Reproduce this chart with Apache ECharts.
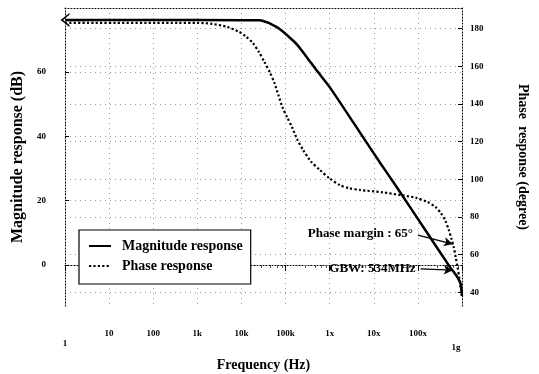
<!DOCTYPE html>
<html>
<head>
<meta charset="utf-8">
<script src="https://cdn.jsdelivr.net/npm/echarts@6/dist/echarts.min.js"></script>
<style>
html, body { margin: 0; padding: 0; background: #fff; }
#chart_1 { width: 539px; height: 374px; }
</style>
</head>
<body>
<div id="chart_1"></div>
<script>
// frequency tick labels, one per decade from 1 Hz to 1 GHz
var freqTickLabels = ['1', '10', '100', '1k', '10k', '100k', '1x', '10x', '100x', '1g'];
var magTicks = [0, 20, 40, 60];
var phaseTicks = [40, 60, 80, 100, 120, 140, 160, 180];

// magnitude response: [Hz, dB]
var magFreq = [1, 1000, 26000, 32000, 43000, 50000, 71000, 120000, 180000, 300000, 500000, 1000000, 3400000, 14000000, 31000000, 166000000, 550000000, 710000000, 850000000, 930000000, 1000000000];
var magDb = [76.2, 76.2, 76.1, 75.8, 75.2, 74.7, 73.5, 70.9, 68.6, 64.7, 60.6, 55.3, 44.4, 31.7, 24.8, 9.8, -0.9, -2.9, -4.6, -5.8, -9.5];

// phase response: [Hz, degree]
var phaseFreq = [1, 380, 1000, 2100, 4500, 8900, 12600, 18000, 25000, 33000, 44000, 56000, 69000, 85000, 110000, 140000, 185000, 250000, 380000, 600000, 1000000, 1700000, 2800000, 4900000, 16000000, 40000000, 89000000, 166000000, 250000000, 330000000, 420000000, 500000000, 575000000, 650000000, 720000000, 790000000, 870000000, 930000000, 1000000000];
var phaseDeg = [183, 183, 183, 182.5, 181, 178.2, 175.8, 172.4, 167.5, 162.3, 156.8, 151.1, 144.6, 138.3, 132.6, 127.7, 121, 115.5, 109.3, 104.9, 100.4, 96.9, 95.2, 94.3, 93, 91.6, 90.2, 87.9, 85.3, 82.1, 78, 73.1, 68.5, 64.0, 58.5, 53.4, 47.5, 42.8, 38];

// annotation arrows (left axis coordinates)
var noteText = ['Phase margin : 65°', 'GBW: 534MHz'];
var noteFrom = [[100000000, 9.3], [115000000, -1.2]];
var noteTo = [[620000000, 6.5], [620000000, -1.6]];

var FONT = 'Liberation Serif';

function pairs(xs, ys) {
    var out = [];
    for (var i = 0; i < xs.length; i++) out.push([xs[i], ys[i]]);
    return out;
}

var notes = [];
for (var i = 0; i < noteText.length; i++) {
    notes.push([
        { coord: noteFrom[i], label: { formatter: noteText[i] } },
        { coord: noteTo[i] }
    ]);
}

var myChart = echarts.init(document.getElementById('chart_1'));
var dotted = { color: '#000', width: 1, type: [1, 2] };
var gridDots = { color: '#9a9a9a', width: 1, type: [1, 4] };

var option = {
    animation: false,
    backgroundColor: '#fff',
    textStyle: { fontFamily: FONT },
    grid: { left: 65, right: 77, top: 8, bottom: 68, outerBoundsMode: 'none' },
    legend: {
        left: 79,
        top: 230,
        orient: 'vertical',
        backgroundColor: '#fff',
        borderColor: '#000',
        borderWidth: 1.2,
        borderRadius: 0,
        padding: [9, 8, 11, 9],
        itemWidth: 22,
        itemHeight: 10,
        itemGap: 6,
        itemStyle: { opacity: 0 },
        textStyle: { fontFamily: FONT, fontSize: 14, fontWeight: 'bold', color: '#000', padding: [0, 0, 0, 6] },
        data: ['Magnitude response', 'Phase response']
    },
    xAxis: [{
        type: 'log',
        logBase: 10,
        min: 1,
        max: 1000000000,
        position: 'bottom',
        name: 'Frequency (Hz)',
        nameLocation: 'middle',
        nameGap: 52,
        nameTextStyle: { fontFamily: FONT, fontSize: 14, fontWeight: 'bold', color: '#000' },
        axisLine: { lineStyle: dotted },
        axisTick: { show: true, length: 6, lineStyle: { color: '#000' } },
        minorTick: { show: true, length: 3, lineStyle: { color: '#555' } },
        splitLine: { show: true, lineStyle: gridDots },
        axisLabel: {
            margin: 23,
            showMinLabel: true,
            showMaxLabel: true,
            fontFamily: FONT,
            fontSize: 9,
            fontWeight: 'bold',
            color: '#000',
            formatter: function (v) {
                var i = Math.round(Math.log(v) / Math.LN10);
                var t = freqTickLabels[i];
                if (i === 0) return '{a|' + t + '}';
                if (i === freqTickLabels.length - 1) return '{b|' + t + '}';
                return t;
            },
            rich: {
                a: { padding: [10, 0, 0, 0], fontFamily: FONT, fontSize: 9, fontWeight: 'bold', color: '#000' },
                b: { padding: [14, 12, 0, 0], fontFamily: FONT, fontSize: 9, fontWeight: 'bold', color: '#000' }
            }
        }
    }, {
        type: 'log',
        logBase: 10,
        min: 1,
        max: 1000000000,
        position: 'top',
        axisLine: { lineStyle: dotted },
        axisTick: { show: false },
        axisLabel: { show: false },
        splitLine: { show: false }
    }],
    yAxis: [{
        type: 'value',
        min: -12.75,
        max: 79.9,
        position: 'left',
        name: 'Magnitude response (dB)',
        nameLocation: 'middle',
        nameRotate: 90,
        nameGap: 38,
        nameTextStyle: { fontFamily: FONT, fontSize: 16, fontWeight: 'bold', color: '#000' },
        axisLine: { show: true, lineStyle: dotted },
        axisTick: { show: true, inside: true, length: 4, customValues: magTicks, lineStyle: { color: '#000' } },
        splitLine: { show: true, lineStyle: gridDots },
        axisLabel: { customValues: magTicks, margin: 19, fontFamily: FONT, fontSize: 9, fontWeight: 'bold', color: '#000' }
    }, {
        type: 'value',
        min: 32.7,
        max: 190.9,
        position: 'right',
        name: 'Phase  response (degree)',
        nameLocation: 'middle',
        nameRotate: -90,
        nameGap: 54,
        nameTextStyle: { fontFamily: FONT, fontSize: 14, fontWeight: 'bold', color: '#000' },
        axisLine: { show: true, lineStyle: dotted },
        axisTick: { show: true, inside: true, length: 4, customValues: phaseTicks, lineStyle: { color: '#000' } },
        splitLine: { show: true, lineStyle: gridDots },
        axisLabel: { customValues: phaseTicks, margin: 8, fontFamily: FONT, fontSize: 9, fontWeight: 'bold', color: '#000' }
    }],
    series: [{
        name: 'Magnitude response',
        type: 'line',
        xAxisIndex: 0,
        yAxisIndex: 0,
        smooth: 0.25,
        symbol: 'none',
        lineStyle: { color: '#000', width: 2.5 },
        itemStyle: { color: '#000' },
        data: pairs(magFreq, magDb),
        markLine: {
            silent: true,
            animation: false,
            data: [[
                { coord: [magFreq[0], magDb[0]], symbol: 'path://M0,10 L5,0 L10,10 L8.6,10 L5,2.8 L1.4,10 Z', symbolSize: [14, 9] },
                { coord: [3, magDb[0]], symbol: 'none' }
            ]].concat(notes),
            symbol: ['none', 'arrow'],
            symbolSize: [7, 9],
            lineStyle: { color: '#000', width: 1.3, type: 'solid' },
            label: {
                show: true,
                position: 'start',
                distance: 5,
                fontFamily: FONT,
                fontSize: 13,
                fontWeight: 'bold',
                color: '#000'
            }
        }
    }, {
        name: 'Phase response',
        type: 'line',
        xAxisIndex: 0,
        yAxisIndex: 1,
        smooth: 0.25,
        symbol: 'none',
        lineStyle: { color: '#000', width: 2.2, type: [2.2, 2.2] },
        itemStyle: { color: '#000' },
        data: pairs(phaseFreq, phaseDeg)
    }]
};
myChart.setOption(option);
</script>
</body>
</html>
